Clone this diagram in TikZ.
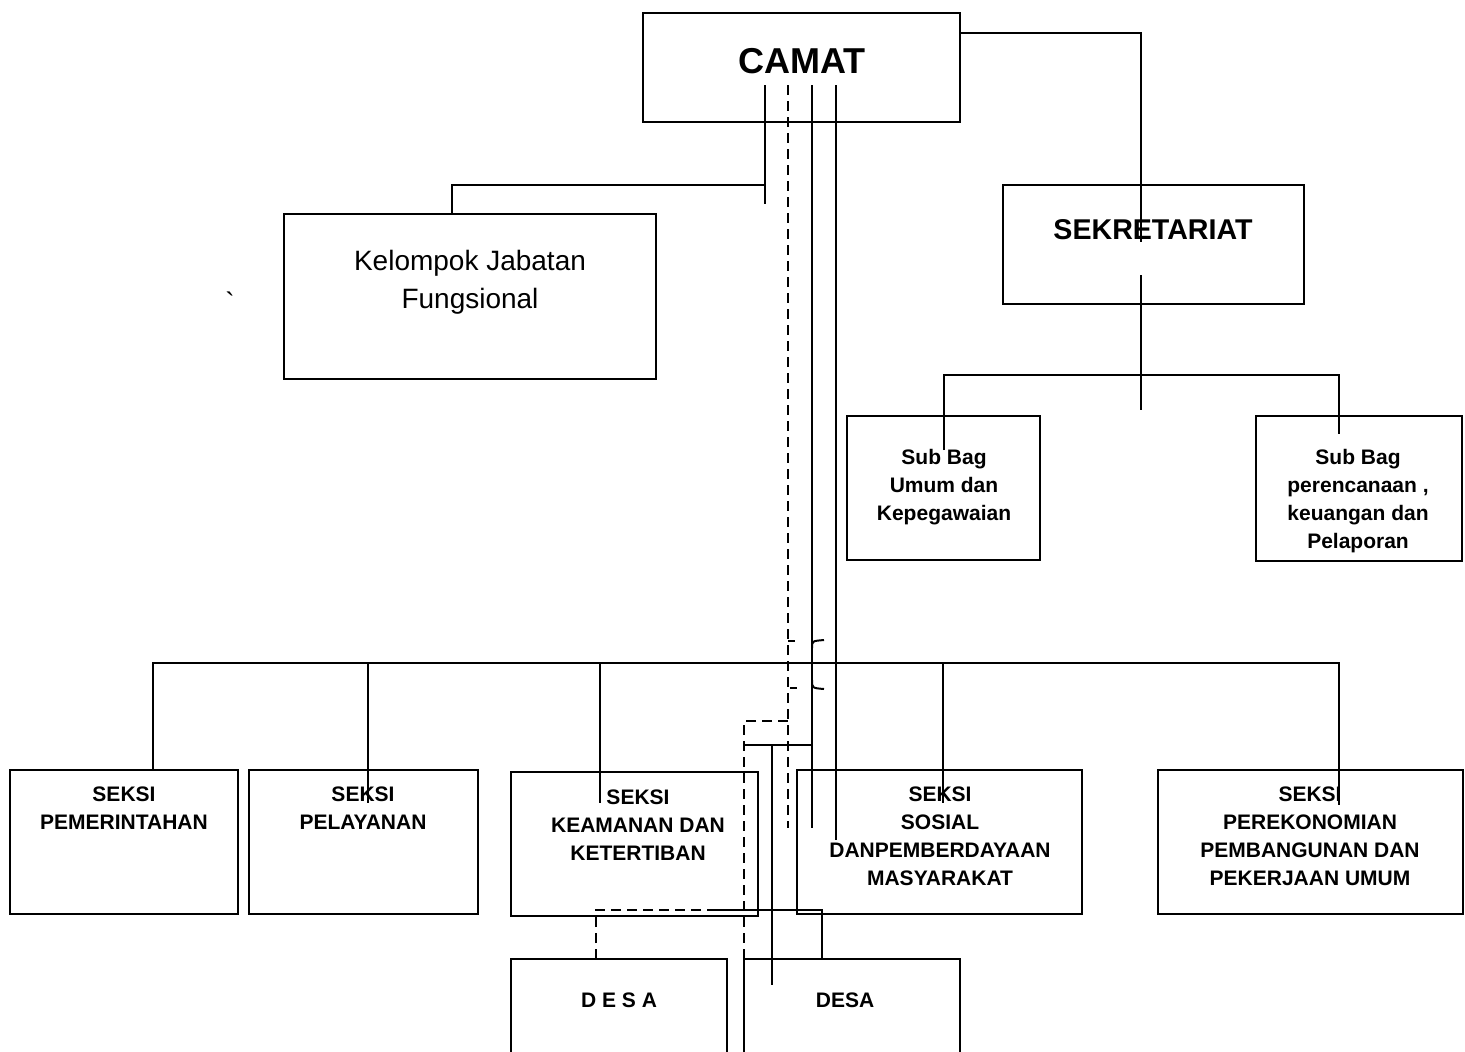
\documentclass[tikz,border=0pt]{standalone}
\usepackage{fontspec}
\setmainfont{Liberation Sans}
\newfontfamily\rawfont{Liberation Sans}
\usetikzlibrary{fit}
\begin{document}
\begin{tikzpicture}[x=0.5pt,y=-0.5pt,line width=1pt,
  box/.style={draw,rectangle,inner sep=0pt,outer sep=0pt,line width=1pt},
  bigt/.style={font=\fontsize{18}{22}\selectfont\bfseries,inner sep=0pt},
  midt/.style={font=\fontsize{14.3}{18}\selectfont\bfseries,inner sep=0pt},
  kjt/.style={font=\fontsize{14}{19}\selectfont,align=center,inner sep=0pt},
  smt/.style={font=\fontsize{10.5}{14}\selectfont\bfseries,align=center,inner sep=0pt},
  dsh/.style={dashed,dash pattern=on 5pt off 3pt}]
\clip (0,0) rectangle (1465,1051);
\fill[white] (0,0) rectangle (1465,1051);

% boxes
\node[box,fit={(643,13) (960,122)}] (camat) {};
\node[box,fit={(284,214) (656,379)}] (kjf) {};
\node[box,fit={(1003,185) (1304,304)}] (sek) {};
\node[box,fit={(847,416) (1040,560)}] (sbu) {};
\node[box,fit={(1256,416) (1462,561)}] (sbp) {};
\node[box,fit={(10,770) (238,914)}] (pem) {};
\node[box,fit={(249,770) (478,914)}] (pel) {};
\node[box,fit={(511,772) (758,916)}] (kea) {};
\node[box,fit={(797,770) (1082,914)}] (sos) {};
\node[box,fit={(1158,770) (1463,914)}] (eko) {};
\node[box,fit={(511,959) (727,1090)}] (desa1) {};
\node[box,fit={(744,959) (960,1090)}] (desa2) {};

% texts
\node[bigt] (tcamat) at (802,61) {CAMAT};
\node[kjt] (tkjf) at (470,282) {Kelompok Jabatan\\Fungsional};
\node[midt] (tsek) at (1153,230) {SEKRETARIAT};
\node[smt] (tsbu) at (944,487) {Sub Bag\\Umum dan\\Kepegawaian};
\node[smt] (tsbp) at (1358,501) {Sub Bag\\perencanaan ,\\keuangan dan\\Pelaporan};
\node[smt] (tpem) at (124,808) {SEKSI\\PEMERINTAHAN};
\node[smt] (tpel) at (363,808) {SEKSI\\PELAYANAN};
\node[smt] (tkea) at (638,825) {SEKSI\\KEAMANAN DAN\\KETERTIBAN};
\node[smt] (tsos) at (940,836) {SEKSI\\SOSIAL\\DANPEMBERDAYAAN\\MASYARAKAT};
\node[smt] (teko) at (1310,836) {SEKSI\\PEREKONOMIAN\\PEMBANGUNAN DAN\\PEKERJAAN UMUM};
\node[smt] (tdesa1) at (619,1000) {D E S A};
\node[smt] (tdesa2) at (845,1000) {DESA};
\node[font=\fontsize{14}{18}\rawfont,inner sep=0pt] (tick) at (230,302) {`};

% coordinates
\coordinate (c1) at (1141,33);
\coordinate (sekin1) at (1141,242);
\coordinate (sekin2) at (1141,275);
\coordinate (sekout) at (1141,410);
\coordinate (subbus) at (1141,375);
\coordinate (sbuin) at (944,450);
\coordinate (sbpin) at (1339,434);
\coordinate (k1) at (765,85);
\coordinate (k2) at (765,204);
\coordinate (k3) at (765,185);
\coordinate (kt) at (452,214);
\coordinate (d1) at (788,85);
\coordinate (d2) at (788,828);
\coordinate (d3) at (788,721);
\coordinate (dd1) at (596,959);
\coordinate (dd2) at (713,910);
\coordinate (dd3) at (822,959);
\coordinate (s1) at (812,85);
\coordinate (s2) at (812,828);
\coordinate (s3) at (812,745);
\coordinate (s4) at (772,745);
\coordinate (s5) at (772,985);
\coordinate (t1) at (836,85);
\coordinate (t2) at (836,840);
\coordinate (busL) at (153,663);
\coordinate (busR) at (1339,663);
\coordinate (pemin) at (153,770);
\coordinate (pelin) at (368,803);
\coordinate (keain) at (600,803);
\coordinate (sosin) at (943,803);
\coordinate (ekoin) at (1339,805);

% CAMAT - SEKRETARIAT
\draw (camat.east |- c1) -| (sekin1);
\draw (sekin2) -- (sekout);
\draw (sbuin) |- (subbus) -| (sbpin);

% Kelompok Jabatan Fungsional
\draw (k1) -- (k2);
\draw (kt) |- (k3);

% dashed lines
\draw[dsh] (d1) -- (d2);
\draw[dsh] (d3) -| (desa2.north west);
\draw[dsh] (dd1) |- (dd2);
\draw (dd2) -| (dd3);

% solid lines from CAMAT
\draw (s1) -- (s2);
\draw (s3) -- (desa2.north west |- s3);
\draw (s4) -- (s5);
\draw (t1) -- (t2);

% bus to seksi
\draw (pemin) |- (busR) -- (ekoin);
\draw (busL -| pelin) -- (pelin);
\draw (busL -| keain) -- (keain);
\draw (busL -| sosin) -- (sosin);

% crossing hops
\draw (812,648) .. controls (812,641) .. (824,640);
\draw (812,680) .. controls (812,688) .. (824,689);
\draw (788,641) -- (795,641);
\draw (790,688) -- (797,688);
\end{tikzpicture}
\end{document}
